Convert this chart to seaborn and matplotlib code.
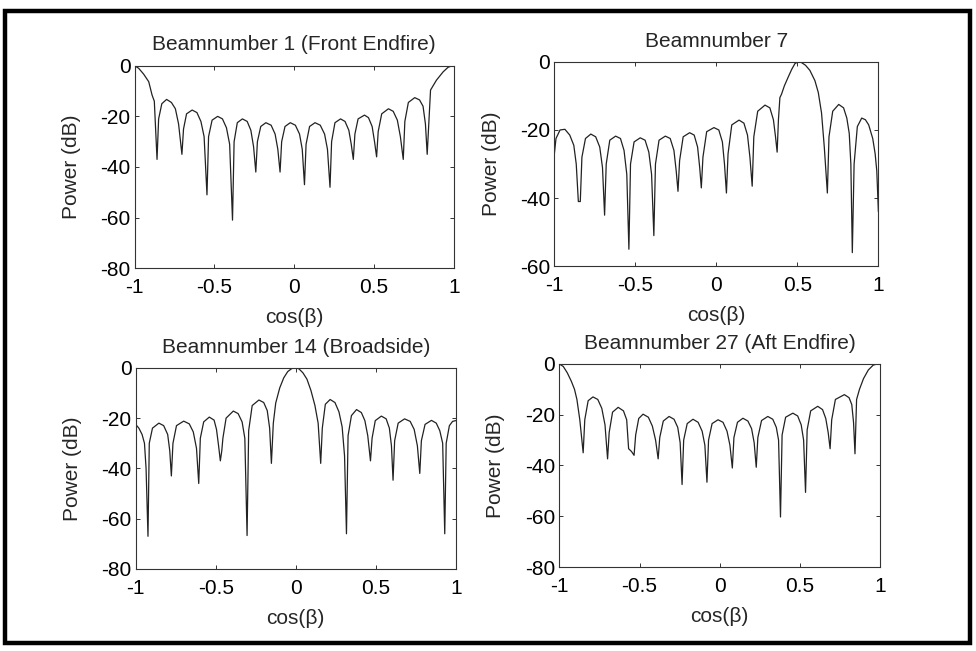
import matplotlib
matplotlib.use("Agg")
from matplotlib import pyplot as plt
from matplotlib.patches import Rectangle
import seaborn as sns
import pandas as pd

# beam 1 (front endfire)
x_b1 = [-1.0, -0.975, -0.944, -0.912, -0.891, -0.877, -0.86,
        -0.85, -0.83, -0.80, -0.77, -0.745, -0.725, -0.704,
        -0.694, -0.675, -0.64, -0.61, -0.585, -0.565, -0.547,
        -0.537, -0.515, -0.48, -0.45, -0.425, -0.405, -0.387,
        -0.377, -0.357, -0.325, -0.295, -0.272, -0.255, -0.241,
        -0.231, -0.21, -0.178, -0.145, -0.12, -0.103, -0.089,
        -0.079, -0.058, -0.025, 0.007, 0.033, 0.05, 0.064,
        0.074, 0.096, 0.13, 0.163, 0.19, 0.208, 0.224,
        0.234, 0.255, 0.29, 0.318, 0.342, 0.357, 0.370,
        0.38, 0.40, 0.44, 0.465, 0.488, 0.503, 0.516,
        0.526, 0.548, 0.59, 0.62, 0.646, 0.665, 0.683,
        0.693, 0.715, 0.755, 0.785, 0.807, 0.822, 0.833,
        0.854, 0.891, 0.933, 0.964, 0.985, 1.0]
y_b1 = [0, -1, -3.3, -6.3, -11.6, -14, -37,
        -21, -15, -13.3, -14.5, -17, -23, -35,
        -25, -19, -17.5, -18.5, -22, -28, -51,
        -28, -21.5, -20, -21, -24.5, -31, -61,
        -30, -22.5, -21, -22, -25.5, -32, -42,
        -30, -24, -22.5, -23.5, -27, -33, -42,
        -30, -24, -22.5, -23.5, -27, -33, -47,
        -31, -24, -22.5, -23.5, -27, -33, -48,
        -30, -22.5, -21, -22, -25.5, -31, -37,
        -27, -21, -19.5, -20.5, -24, -30, -36,
        -26, -19, -17, -18, -21.5, -28, -37,
        -22, -14.5, -12.6, -13.5, -16, -23, -35,
        -9.6, -5.7, -2.4, -0.6, -0.1, 0]

# beam 7
x_b7 = [-1.0, -0.99, -0.965, -0.935, -0.905, -0.88, -0.865, -0.852, -0.84,
        -0.83, -0.808, -0.775, -0.745, -0.72, -0.703, -0.69,
        -0.68, -0.658, -0.622, -0.592, -0.57, -0.553, -0.54,
        -0.53, -0.508, -0.47, -0.44, -0.417, -0.40, -0.386,
        -0.376, -0.354, -0.315, -0.285, -0.262, -0.248, -0.237,
        -0.227, -0.205, -0.165, -0.137, -0.116, -0.103, -0.093,
        -0.083, -0.06, -0.015, 0.015, 0.037, 0.05, 0.062,
        0.072, 0.095, 0.14, 0.17, 0.192, 0.207, 0.221,
        0.231, 0.255, 0.30, 0.33, 0.352, 0.365, 0.375,
        0.383, 0.392, 0.402, 0.42, 0.443, 0.465, 0.485, 0.505, 0.525, 0.55,
        0.577, 0.608, 0.629, 0.649, 0.666, 0.685,
        0.695, 0.718, 0.755, 0.785, 0.805, 0.82, 0.83, 0.839,
        0.85, 0.87, 0.897, 0.92, 0.94, 0.965, 0.98, 0.99, 1.0]
y_b7 = [-27, -22.5, -20, -19.8, -21.5, -24.5, -30, -41, -41,
        -28, -22.5, -21.2, -22, -25, -31, -45,
        -30, -23, -21.8, -22.5, -26, -33, -55,
        -30, -23.5, -22.3, -23, -26.5, -33, -51,
        -30, -23, -21.8, -22.5, -26, -32, -38,
        -29, -22, -20.8, -21.5, -25, -31, -37,
        -28, -20.5, -19.3, -20, -23.5, -30, -38.5,
        -27, -18.5, -17.1, -18, -21.5, -28, -36.5,
        -22, -14.5, -12.7, -13.5, -17, -22, -26.5,
        -17, -10.5, -9.5, -7, -4.5, -2.2, -0.5, 0, -0.2, -1,
        -2.5, -5.5, -9, -15, -25, -38.5,
        -22, -14.5, -12.5, -13.5, -16.5, -21, -30, -56,
        -30, -19, -16.5, -17, -18.5, -22.5, -27, -32, -44]

# beam 14 (broadside)
x_b14 = [-1.0, -0.98, -0.96, -0.945, -0.935, -0.923,
         -0.915, -0.895, -0.855, -0.825, -0.80, -0.787, -0.777,
         -0.767, -0.745, -0.70, -0.665, -0.64, -0.62, -0.606,
         -0.596, -0.575, -0.54, -0.51, -0.495, -0.482, -0.471,
         -0.462, -0.455, -0.435, -0.39, -0.36, -0.335, -0.318, -0.304,
         -0.294, -0.272, -0.23, -0.20, -0.178, -0.163, -0.152,
         -0.14, -0.125, -0.10, -0.075, -0.05, -0.025, 0.0, 0.02, 0.045,
         0.07, 0.095, 0.12, 0.14, 0.156,
         0.166, 0.185, 0.215, 0.245, 0.27, 0.29, 0.305, 0.317,
         0.327, 0.348, 0.38, 0.41, 0.432, 0.45, 0.467,
         0.477, 0.497, 0.535, 0.565, 0.585, 0.598, 0.608,
         0.618, 0.64, 0.68, 0.715, 0.74, 0.76, 0.775,
         0.785, 0.808, 0.848, 0.878, 0.90, 0.918, 0.931,
         0.94, 0.96, 0.98, 1.0]
y_b14 = [-22.5, -24, -26.5, -30, -40, -67,
         -30, -24, -22, -23, -26.5, -33, -43,
         -30, -23, -21.2, -22.3, -25.5, -32, -46,
         -28, -21.5, -19.6, -20.8, -24.5, -31, -37,
         -33, -28, -20, -17.2, -18.2, -21.5, -28, -66.7,
         -25, -15, -12.8, -13.8, -17, -24, -38,
         -22, -14, -8, -4, -1.5, -0.3, 0, -0.4, -2,
         -4.5, -9, -15, -22, -38,
         -24, -14.5, -12.6, -13.8, -17.5, -23.5, -35, -66,
         -27, -19, -16.6, -17.8, -21, -27, -37,
         -28, -21, -19.2, -20.3, -24, -31, -44.7,
         -29, -22, -20.3, -21.3, -24.5, -31, -42,
         -29, -22.5, -20.9, -22, -25, -30, -66,
         -30, -23, -21.3, -21]

# beam 27 (aft endfire)
x_b27 = [-1.0, -0.975, -0.95, -0.925, -0.905, -0.89, -0.872, -0.851,
         -0.841, -0.82, -0.79, -0.76, -0.735, -0.715, -0.699,
         -0.689, -0.668, -0.633, -0.60, -0.58, -0.568, -0.55, -0.534,
         -0.524, -0.505, -0.478, -0.445, -0.42, -0.40, -0.384,
         -0.374, -0.352, -0.316, -0.285, -0.262, -0.247, -0.235,
         -0.225, -0.203, -0.167, -0.135, -0.11, -0.093, -0.08,
         -0.07, -0.048, -0.011, 0.02, 0.045, 0.063, 0.078,
         0.088, 0.11, 0.144, 0.175, 0.198, 0.214, 0.227,
         0.237, 0.26, 0.299, 0.33, 0.352, 0.366, 0.378,
         0.388, 0.41, 0.455, 0.485, 0.507, 0.522, 0.534,
         0.544, 0.566, 0.61, 0.64, 0.66, 0.675, 0.687,
         0.697, 0.72, 0.776, 0.805, 0.822, 0.833, 0.842,
         0.852, 0.87, 0.895, 0.925, 0.955, 0.98, 1.0]
y_b27 = [0, -1, -3.5, -6.8, -10, -14, -22, -35,
         -22, -14.5, -13, -14, -17.5, -24, -37.4,
         -27, -19, -17.1, -18.5, -22, -33.4, -34.5, -36,
         -28, -21.5, -19.8, -21, -24.5, -30, -37.4,
         -29, -22.5, -20.7, -21.8, -25, -31, -47.5,
         -30, -23.5, -21.8, -23, -26.5, -32, -46.6,
         -30, -23.5, -22, -23, -26.5, -32, -41,
         -29, -23, -21.4, -22.5, -25.5, -31, -40.7,
         -29, -22.3, -20.7, -21.8, -25, -30, -60.3,
         -28, -21, -19.4, -20.5, -24, -30, -50.6,
         -26, -18.5, -16.7, -18, -21.5, -27, -33.4,
         -22, -14, -12.1, -13.3, -16, -23, -35.4,
         -14, -10, -5.8, -2.4, -0.5, 0, 0]

titles = ["Beamnumber 1 (Front Endfire)", "Beamnumber 7",
          "Beamnumber 14 (Broadside)", "Beamnumber 27 (Aft Endfire)"]
xticks = [-1, -0.5, 0, 0.5, 1]
xticklabels = ["-1", "-0.5", "0", "0.5", "1"]
yticks_80 = [-80, -60, -40, -20, 0]
yticks_60 = [-60, -40, -20, 0]

sns.set_theme(style="ticks")
plt.rcParams["font.family"] = ["Liberation Sans", "DejaVu Sans"]
plt.rcParams["axes.unicode_minus"] = False
plt.rcParams["xtick.direction"] = "in"
plt.rcParams["ytick.direction"] = "in"

fig = plt.figure(figsize=(9.76, 6.51), dpi=100)
fig.patch.set_facecolor("white")
fig.add_artist(Rectangle((0.005, 0.012), 0.989, 0.971, transform=fig.transFigure,
                         fill=False, edgecolor="black", linewidth=3.2))

positions = [[0.138, 0.588, 0.327, 0.311],
             [0.568, 0.591, 0.332, 0.314],
             [0.139, 0.126, 0.328, 0.309],
             [0.573, 0.129, 0.329, 0.312]]
series = [(x_b1, y_b1, yticks_80), (x_b7, y_b7, yticks_60),
          (x_b14, y_b14, yticks_80), (x_b27, y_b27, yticks_80)]

for pos, (xs, ys, yt), title in zip(positions, series, titles):
    ax = fig.add_axes(pos)
    df = pd.DataFrame({"x": xs, "y": ys})
    sns.lineplot(data=df, x="x", y="y", ax=ax, color="#222222", linewidth=0.9,
                 sort=False, estimator=None)
    ax.set_xlim(-1, 1)
    ax.set_ylim(yt[0], 0)
    ax.set_xticks(xticks)
    ax.set_xticklabels(xticklabels)
    ax.set_yticks(yt)
    ax.set_yticklabels([str(v) for v in yt])
    ax.tick_params(axis="both", labelsize=15, length=3, width=0.7,
                   top=True, right=True, colors="#333333", labelcolor="black")
    ax.tick_params(axis="x", pad=7)
    ax.tick_params(axis="y", pad=3)
    for sp in ax.spines.values():
        sp.set_visible(True)
        sp.set_linewidth(0.8)
        sp.set_color("#333333")
    ax.set_xlabel("cos(β)", fontsize=15, labelpad=8)
    ax.set_ylabel("Power (dB)", fontsize=15, labelpad=14)
    ax.set_title(title, fontsize=15, pad=11)

fig.savefig("out.png", dpi=100)
